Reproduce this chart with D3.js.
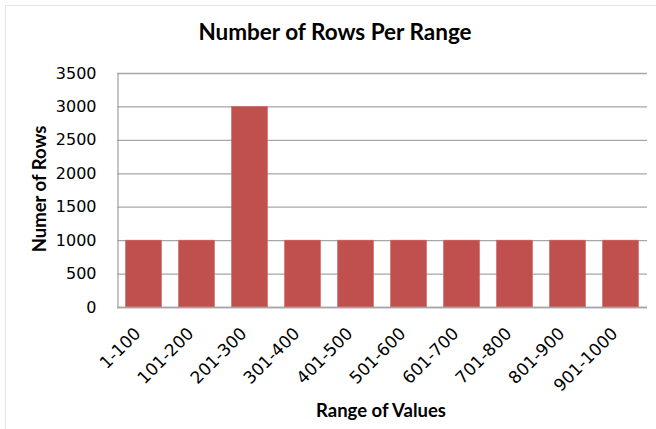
<!DOCTYPE html>
<html><head><meta charset="utf-8">
<script src="https://cdn.jsdelivr.net/npm/d3@7"></script>
<style>body{margin:0;background:#fff}svg{display:block}text{font-family:Lato,"Open Sans",sans-serif}</style>
</head><body><svg id="c" width="656" height="429"></svg>
<script>
const categories = ["1-100","101-200","201-300","301-400","401-500","501-600","601-700","701-800","801-900","901-1000"];
const values = [1000,1000,3000,1000,1000,1000,1000,1000,1000,1000];
const yTicks = [0,500,1000,1500,2000,2500,3000,3500];
const title = "Number of Rows Per Range";
const xTitle = "Range of Values";
const yTitle = "Numer of Rows";

const svg = d3.select("#c");
const m = {l:117, r:647, t:73, b:307};
const tickFont = "'DejaVu Sans',sans-serif";
svg.append("rect").attr("x",5.5).attr("y",5.5).attr("width",660).attr("height",440)
  .attr("fill","none").attr("stroke","#e4e4e4");

const x = d3.scaleBand().domain(categories).range([m.l, m.r]).paddingInner(0.32).paddingOuter(0.16);
const y = d3.scaleLinear().domain([0,3500]).range([m.b, m.t]);

// gridlines
svg.append("g").selectAll("line").data(yTicks).join("line")
  .attr("x1",m.l).attr("x2",m.r).attr("y1",d=>y(d)+0.5).attr("y2",d=>y(d)+0.5)
  .attr("stroke","#a6a6a6").attr("stroke-width",1.3);

// bars
svg.append("g").selectAll("rect").data(values).join("rect")
  .attr("x",(d,i)=>x(categories[i])).attr("width",x.bandwidth())
  .attr("y",d=>y(d)).attr("height",d=>y(0)-y(d))
  .attr("fill","#C0504D").attr("stroke","#d46a66").attr("stroke-width",0.6);

// y axis
const ya = svg.append("g").attr("transform",`translate(${m.l+0.5},0)`)
  .call(d3.axisLeft(y).tickValues(yTicks).tickFormat(d3.format("d")).tickSize(0).tickPadding(21));
ya.select(".domain").attr("stroke","#a6a6a6").attr("stroke-width",1.3);
ya.selectAll("text").attr("font-size",16).attr("fill","#000").style("font-family",tickFont);

// x axis
const xa = svg.append("g").attr("transform",`translate(0,${m.b+0.5})`)
  .call(d3.axisBottom(x).tickSize(0).tickPadding(0));
xa.select(".domain").attr("stroke","#a6a6a6").attr("stroke-width",1.3).attr("d",`M${m.l},0H${m.r}`);
xa.selectAll("text").attr("font-size",17).attr("fill","#000").style("font-family",tickFont)
  .attr("text-anchor","end").attr("dy","0.35em")
  .attr("transform","translate(-6,23) rotate(-45)");

svg.append("text").attr("x",335).attr("y",40).attr("text-anchor","middle")
  .attr("font-size",22.5).attr("font-weight","bold").text(title);
svg.append("text").attr("x",381).attr("y",417).attr("text-anchor","middle")
  .attr("font-size",18.5).attr("font-weight","bold").text(xTitle);
svg.append("text").attr("transform","translate(46,189) rotate(-90)").attr("text-anchor","middle")
  .attr("font-size",18.5).attr("font-weight","bold").text(yTitle);
</script></body></html>
